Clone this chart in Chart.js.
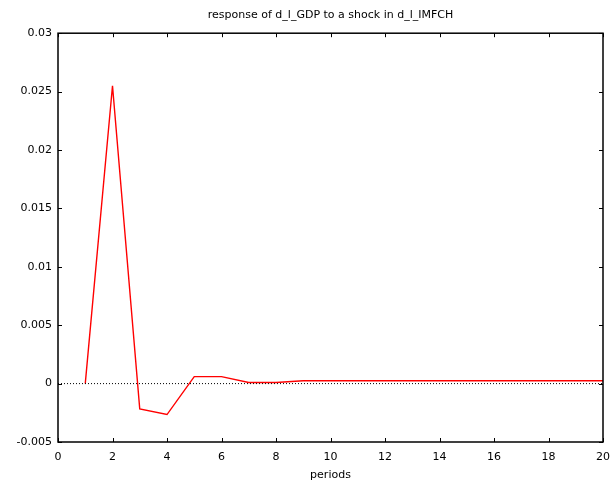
<!DOCTYPE html>
<html>
<head>
<meta charset="utf-8">
<script src="https://cdn.jsdelivr.net/npm/chart.js@4/dist/chart.umd.min.js"></script>
<style>
  html, body { margin: 0; padding: 0; background: #fff; }
  #wrap { width: 613px; height: 484px; }
</style>
</head>
<body>
<div id="wrap"><canvas id="irf"></canvas></div>
<script>
// impulse response, periods 1..20
const periods  = [1, 2, 3, 4, 5, 6, 7, 8, 9, 10, 11, 12, 13, 14, 15, 16, 17, 18, 19, 20];
const response = [0, 0.0255, -0.00217, -0.00265, 0.0006, 0.0006, 0.0001, 0.0001, 0.00025, 0.00025,
                  0.00025, 0.00025, 0.00025, 0.00025, 0.00025, 0.00025, 0.00025, 0.00025, 0.00025, 0.00025];
const zeroX    = [0, 20];
const zeroY    = [0, 0];
const titleText = 'response of d_l_GDP to a shock in d_l_IMFCH';
const xTitle    = 'periods';

const FONT = 'DejaVu Sans';
const FSIZE = 11;
const INK  = '#000';

// frame + inward tick marks on all four sides
const frameTicks = {
  id: 'frameTicks',
  afterDatasetsDraw(chart) {
    const { ctx, chartArea: a, scales } = chart;
    const len = 4;
    ctx.save();
    ctx.strokeStyle = '#000';
    ctx.lineWidth = 1;
    ctx.beginPath();
    scales.x.ticks.forEach(t => {
      const px = Math.round(scales.x.getPixelForValue(t.value)) + 0.5;
      ctx.moveTo(px, a.bottom); ctx.lineTo(px, a.bottom - len);
      ctx.moveTo(px, a.top);    ctx.lineTo(px, a.top + len);
    });
    scales.y.ticks.forEach(t => {
      const py = Math.round(scales.y.getPixelForValue(t.value)) + 0.5;
      ctx.moveTo(a.left, py);  ctx.lineTo(a.left + len, py);
      ctx.moveTo(a.right, py); ctx.lineTo(a.right - len, py);
    });
    ctx.stroke();
    ctx.lineWidth = 1.5;
    ctx.strokeRect(a.left, a.top, a.right - a.left, a.bottom - a.top);
    ctx.restore();
  }
};

new Chart(document.getElementById('irf'), {
  type: 'line',
  data: {
    datasets: [
      {
        data: zeroX.map((x, i) => ({ x, y: zeroY[i] })),
        borderColor: '#000', borderWidth: 1, borderDash: [1, 2],
        pointRadius: 0, tension: 0
      },
      {
        data: periods.map((p, i) => ({ x: p, y: response[i] })),
        borderColor: '#ff0000', borderWidth: 1.4,
        pointRadius: 0, tension: 0
      }
    ]
  },
  options: {
    responsive: true, maintainAspectRatio: false, animation: false,
    layout: { padding: { left: 12, right: 3, top: 0, bottom: 2 } },
    plugins: {
      legend: { display: false },
      tooltip: { enabled: false },
      title: {
        display: true, text: titleText, color: INK, fullSize: false,
        font: { family: FONT, size: FSIZE, weight: 'normal' },
        padding: { top: 9, bottom: 11 }
      }
    },
    scales: {
      x: {
        type: 'linear', min: 0, max: 20,
        grid: { display: false, drawTicks: false }, border: { display: false },
        ticks: { stepSize: 2, color: INK, padding: 9, font: { family: FONT, size: FSIZE }, maxRotation: 0 },
        title: { display: true, text: xTitle, color: INK, font: { family: FONT, size: FSIZE }, padding: { top: 7, bottom: 0 } },
        afterFit(scale) { scale.height = 40; scale.paddingRight = 10; }
      },
      y: {
        min: -0.005, max: 0.03,
        grid: { display: false, drawTicks: false }, border: { display: false },
        ticks: {
          stepSize: 0.005, color: INK, padding: 6, font: { family: FONT, size: FSIZE },
          callback: v => String(+v.toFixed(3))
        },
        afterFit(scale) { scale.width = 46; }
      }
    }
  },
  plugins: [frameTicks]
});
</script>
</body>
</html>
